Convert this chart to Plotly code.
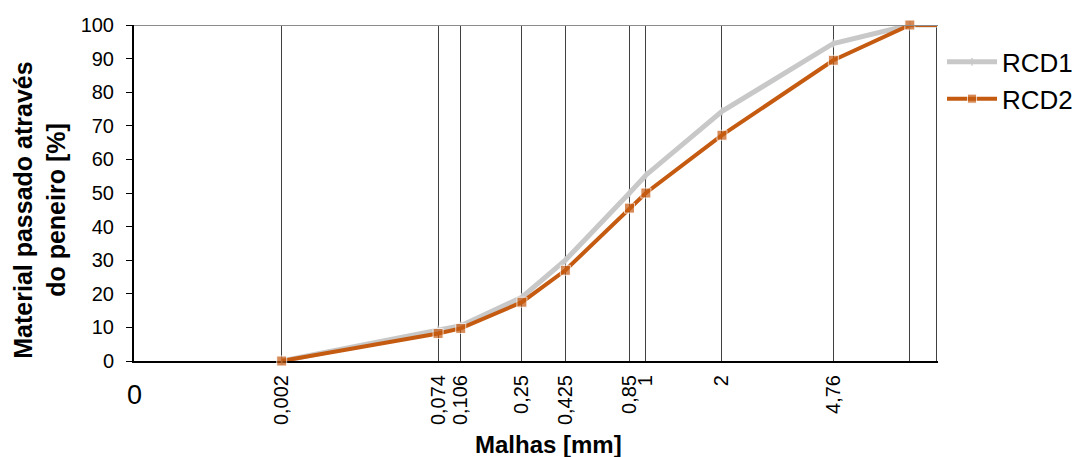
import numpy as np
import plotly.graph_objects as go

# Sieve openings (mm) and % passing
sieves = [0.002, 0.074, 0.106, 0.25, 0.425, 0.85, 1, 2, 4.76, 8, 9.5]
rcd1 = [0, 9.3, 10.5, 19, 30, 50, 55.3, 74.3, 94.5, 100, 100]
rcd2 = [0, 8.2, 9.7, 17.5, 27, 45.5, 50, 67.2, 89.5, 100, 100]
tick_values = [0, 0.002, 0.074, 0.106, 0.25, 0.425, 0.85, 1, 2, 4.76, 8, 9.5]
tick_labels = ["", "0,002", "0,074", "0,106", "0,25", "0,425", "0,85", "1", "2", "4,76", "", ""]
y_ticks = list(range(0, 101, 10))

EXP = 0.2  # power scale used by the original chart


def scale(v):
    return np.power(np.asarray(v, dtype=float), EXP)


FONT = "Liberation Sans, Arial, sans-serif"
GRAY = "#C8C8C8"
ORANGE = "#C55A11"

n = len(sieves)

fig = go.Figure()
fig.add_trace(go.Scatter(
    x=scale(sieves), y=rcd1, name="RCD1", mode="lines+markers",
    line=dict(color=GRAY, width=5),
    marker=dict(symbol="line-ns", size=[6] * (n - 1) + [0], color=GRAY,
                line=dict(color=GRAY, width=2)),
    cliponaxis=False,
))
fig.add_trace(go.Scatter(
    x=scale(sieves), y=rcd2, name="RCD2", mode="lines+markers",
    line=dict(color=ORANGE, width=4),
    marker=dict(symbol="square", size=[10] * (n - 1) + [0], color=ORANGE),
    cliponaxis=False,
))

fig.add_shape(type="line", xref="paper", yref="y", x0=0, x1=1, y0=100, y1=100,
              line=dict(color="#8C8C8C", width=2), layer="above")

fig.add_annotation(x=scale(0).item(), y=0, xref="x", yref="paper", yshift=-34,
                   text="0", showarrow=False, font=dict(family=FONT, size=27, color="black"),
                   xanchor="center", yanchor="middle")
fig.add_annotation(x=0.515, y=0, xref="paper", yref="paper", yshift=-83,
                   text="<b>Malhas [mm]</b>", showarrow=False,
                   font=dict(family=FONT, size=24, color="black"),
                   xanchor="center", yanchor="middle")
fig.add_annotation(x=-0.117, y=0.45, xref="paper", yref="paper", textangle=-90,
                   text="<b>Material passado através<br>do peneiro [%]</b>", showarrow=False,
                   font=dict(family=FONT, size=25, color="black"),
                   xanchor="center", yanchor="middle")

fig.update_layout(
    width=1085, height=457,
    margin=dict(l=134, r=147, t=25, b=96, autoexpand=False),
    paper_bgcolor="white", plot_bgcolor="white",
    font=dict(family=FONT, color="black"),
    showlegend=True,
    legend=dict(x=1.005, y=0.96, xanchor="left", yanchor="top",
                font=dict(family=FONT, size=26, color="black"),
                itemwidth=50,
                bgcolor="rgba(0,0,0,0)", tracegroupgap=2),
    xaxis=dict(
        range=[0, float(scale(9.5)) + 0.002],
        tickmode="array", tickvals=scale(tick_values), ticktext=tick_labels,
        tickangle=-90, tickfont=dict(family=FONT, size=20, color="black"),
        ticks="", ticklabelstandoff=4,
        showgrid=True, gridcolor="#404040", gridwidth=1,
        showline=True, linecolor="black", linewidth=2,
        zeroline=False, layer="below traces",
    ),
    yaxis=dict(
        range=[0, 100], tickmode="array", tickvals=y_ticks,
        tickfont=dict(family=FONT, size=20, color="black"),
        ticks="outside", ticklen=6, tickcolor="black", tickwidth=1,
        ticklabelstandoff=8,
        showgrid=False, showline=True, linecolor="black", linewidth=2,
        zeroline=False, layer="below traces",
    ),
)

fig.write_html("out.html")
